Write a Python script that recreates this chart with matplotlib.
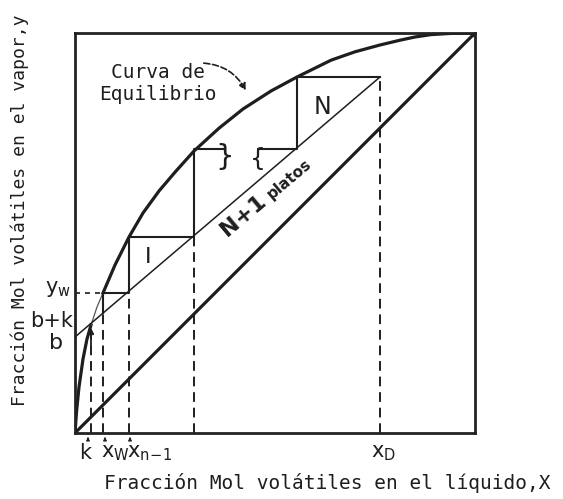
import matplotlib
matplotlib.use("Agg")
import matplotlib.pyplot as plt

# equilibrium curve (x, y mole fractions)
eq_x = [0.0, 0.004, 0.010, 0.020, 0.030, 0.040, 0.055, 0.070, 0.100, 0.135,
        0.170, 0.210, 0.250, 0.2975, 0.360, 0.420, 0.490, 0.555, 0.640,
        0.700, 0.7625, 0.8125, 0.850, 0.890, 0.940, 1.0]
eq_y = [0.0, 0.055, 0.115, 0.185, 0.235, 0.270, 0.315, 0.350, 0.420, 0.490,
        0.550, 0.605, 0.652, 0.705, 0.762, 0.810, 0.855, 0.890, 0.932,
        0.953, 0.970, 0.982, 0.990, 0.996, 0.999, 1.0]

# operating line: intercept b at x = 0, ends at x_D
op_x = [0.0, 0.7625]
op_y = [0.24, 0.89]

# stepped construction (plates), drawn from x_D downwards
step_top_x = [0.7625, 0.555, 0.555, 0.4575]
step_top_y = [0.89, 0.89, 0.71, 0.71]
step_low_x = [0.375, 0.2975, 0.2975, 0.135, 0.135, 0.07, 0.07]
step_low_y = [0.71, 0.71, 0.49, 0.49, 0.35, 0.35, 0.30]

# dashed drop lines to the x axis
drop_x = [0.04, 0.07, 0.135, 0.2975, 0.7625]
drop_top = [0.27, 0.30, 0.355, 0.49, 0.89]
y_w = 0.35

mono = "DejaVu Sans Mono"

fig = plt.figure(figsize=(5.63, 4.99), dpi=100)
ax = fig.add_axes([75 / 563, 66 / 499, 400 / 563, 400 / 499])
ax.set_xlim(0, 1)
ax.set_ylim(0, 1)
ax.set_xticks([])
ax.set_yticks([])
for s in ax.spines.values():
    s.set_linewidth(2.0)
    s.set_color("#222222")

ink = "#1e1e1e"

# diagonal y = x
ax.plot([0, 1], [0, 1], color=ink, lw=2.3, solid_capstyle="round")
# equilibrium curve (thin where the pencil went light, between b+k and y_w)
ax.plot(eq_x[:6], eq_y[:6], color=ink, lw=2.3, solid_joinstyle="round")
ax.plot(eq_x[5:8], eq_y[5:8], color="#555555", lw=0.9)
ax.plot(eq_x[7:], eq_y[7:], color=ink, lw=2.3, solid_joinstyle="round")
ax.plot([1], [1], "o", color=ink, ms=5)
# operating line
ax.plot(op_x, op_y, color=ink, lw=1.1)
# steps
ax.plot(step_top_x, step_top_y, color=ink, lw=1.5)
ax.plot(step_low_x, step_low_y, color=ink, lw=1.5)
# drop lines
for xv, yt in zip(drop_x, drop_top):
    ax.plot([xv, xv], [0, yt], color=ink, lw=1.4, ls=(0, (5, 3)))
ax.plot([0, 0.07], [y_w, y_w], color=ink, lw=1.2, ls=(0, (3, 3)))

# break marks in the omitted steps
ax.text(0.375, 0.69, "}", fontsize=21, color=ink, ha="center", va="center")
ax.text(0.4575, 0.685, "{", fontsize=18, color=ink, ha="center", va="center")

# small arrow at k
ax.annotate("", xy=(0.04, 0.27), xytext=(0.04, 0.21),
            arrowprops=dict(arrowstyle="-|>", color=ink, lw=1.3,
                            mutation_scale=8))

# labels inside the plot
ax.text(0.2075, 0.9025, "Curva de", fontsize=14, family=mono, color=ink,
        ha="center", va="center")
ax.text(0.2075, 0.845, "Equilibrio", fontsize=14, family=mono, color=ink,
        ha="center", va="center")
ax.annotate("", xy=(0.43, 0.85), xytext=(0.315, 0.925),
            arrowprops=dict(arrowstyle="-|>", color=ink, lw=1.2, ls="--",
                            connectionstyle="arc3,rad=-0.3",
                            mutation_scale=10))
ax.text(0.6175, 0.815, "N", fontsize=17, color=ink, ha="center", va="center")
ax.text(0.1825, 0.44, "I", fontsize=16, color=ink, ha="center", va="center")
ax.text(0.42, 0.545, "N+1", fontsize=16, fontweight="bold", color=ink,
        rotation=40, ha="center", va="center", rotation_mode="anchor")
ax.text(0.535, 0.635, "platos", fontsize=11, fontweight="bold", color=ink,
        rotation=40, ha="center", va="center", rotation_mode="anchor")

# left-side labels
ax.text(-0.01, 0.36, r"$\mathregular{y_w}$", fontsize=15, color=ink,
        ha="right", va="center")
ax.text(-0.005, 0.28, "b+k", fontsize=15, color=ink, ha="right", va="center")
ax.text(-0.03, 0.225, "b", fontsize=16, color=ink, ha="right", va="center")

# bottom labels
ax.text(0.025, -0.05, "k", fontsize=15, color=ink, ha="center", va="center")
ax.text(0.065, -0.05, r"$\mathregular{x_W}$", fontsize=15, color=ink,
        ha="left", va="center")
ax.text(0.13, -0.05, r"$\mathregular{x_{n\!-\!1}}$", fontsize=15, color=ink,
        ha="left", va="center")
ax.text(0.74, -0.05, r"$\mathregular{x_D}$", fontsize=15, color=ink,
        ha="left", va="center")
for xv in [0.0325, 0.075, 0.1375]:
    ax.annotate("", xy=(xv, -0.003), xytext=(xv, -0.022),
                arrowprops=dict(arrowstyle="-|>", color=ink, lw=0.8,
                                mutation_scale=5), annotation_clip=False)

# axis titles
ax.text(0.63, -0.125, "Fracción Mol volátiles en el líquido,X", fontsize=14,
        family=mono, color=ink, ha="center", va="center")
ax.text(-0.1375, 0.5575, "Fracción Mol volátiles en el vapor,y", fontsize=13,
        family=mono, color=ink, ha="center", va="center", rotation=90)

fig.savefig("out.png", dpi=100)
